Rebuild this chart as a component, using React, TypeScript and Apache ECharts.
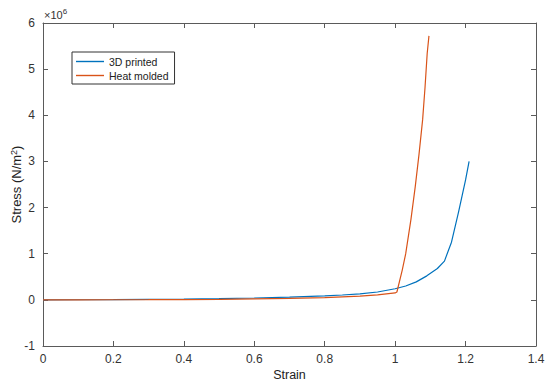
import React, { useEffect, useRef } from "react";
import * as echarts from "echarts";

// Stress values in units of 1e6 N/m^2
const strain3D = [0, 0.1, 0.2, 0.3, 0.4, 0.5, 0.6, 0.7, 0.8, 0.85, 0.9, 0.95, 1.0, 1.03, 1.06, 1.09, 1.12, 1.14, 1.16, 1.18, 1.2, 1.21];
const stress3D = [0, 0.002, 0.005, 0.01, 0.017, 0.027, 0.04, 0.058, 0.085, 0.105, 0.13, 0.17, 0.24, 0.3, 0.39, 0.52, 0.68, 0.84, 1.25, 1.9, 2.6, 3.0];

const strainHM = [0, 0.1, 0.2, 0.3, 0.4, 0.5, 0.6, 0.7, 0.8, 0.9, 0.95, 1.0, 1.005, 1.02, 1.03, 1.045, 1.057, 1.068, 1.078, 1.085, 1.091, 1.096];
const stressHM = [0, 0.001, 0.002, 0.004, 0.007, 0.012, 0.02, 0.03, 0.05, 0.08, 0.11, 0.15, 0.17, 0.64, 1.0, 1.75, 2.45, 3.17, 3.9, 4.62, 5.34, 5.72];

const seriesNames = ["3D printed", "Heat molded"];
const seriesColors = ["#0072BD", "#D95319"];
const xTicks = { min: 0, max: 1.4, interval: 0.2 };
const yTicks = { min: -1, max: 6, interval: 1 };

const FONT = "Liberation Sans, Arial, Helvetica, sans-serif";
const AXIS_COLOR = "#5a5a5a";
const LABEL_COLOR = "#333333";

export default function App() {
  const ref = useRef<HTMLDivElement>(null);
  useEffect(() => {
    if (!ref.current) return;
    const chart = echarts.init(ref.current, undefined, { renderer: "svg" });
    const axisCommon = {
      axisLine: { show: true, onZero: false, lineStyle: { color: AXIS_COLOR, width: 1 } },
      axisTick: { show: true, inside: true, length: 5, lineStyle: { color: AXIS_COLOR } },
      splitLine: { show: false },
    };
    const fmtX = (v: number) => String(parseFloat(v.toFixed(1)));
    chart.setOption({
      animation: false,
      backgroundColor: "#ffffff",
      textStyle: { fontFamily: FONT },
      grid: { left: 43, right: 14, top: 23, bottom: 42, containLabel: false, outerBoundsMode: "none" },
      legend: {
        orient: "vertical",
        left: 72,
        top: 52,
        padding: [4, 6, 3, 4],
        itemGap: 3,
        itemWidth: 28,
        itemHeight: 1.4,
        borderColor: "#333",
        borderWidth: 1,
        backgroundColor: "#fff",
        textStyle: { fontFamily: FONT, fontSize: 10.5, color: "#222", lineHeight: 11 },
        data: seriesNames.map((n) => ({ name: n, icon: "rect" })),
      },
      xAxis: [
        {
          type: "value",
          ...xTicks,
          position: "bottom",
          ...axisCommon,
          axisLabel: { color: LABEL_COLOR, fontSize: 12, fontFamily: FONT, margin: 7, formatter: fmtX },
          name: "Strain",
          nameLocation: "middle",
          nameGap: 22,
          nameMoveOverlap: false,
          nameTextStyle: { color: "#222", fontSize: 12.5, fontFamily: FONT },
        },
        {
          type: "value",
          ...xTicks,
          position: "top",
          ...axisCommon,
          axisLabel: { show: false },
        },
      ],
      yAxis: [
        {
          type: "value",
          ...yTicks,
          position: "left",
          ...axisCommon,
          axisLabel: { color: LABEL_COLOR, fontSize: 12, fontFamily: FONT, margin: 8 },
          name: "Stress (N/m{sup|2})",
          nameLocation: "middle",
          nameGap: 19,
          nameMoveOverlap: false,
          nameRotate: 90,
          nameTextStyle: {
            color: "#222",
            fontSize: 13,
            fontFamily: FONT,
            rich: { sup: { fontSize: 9, verticalAlign: "top", padding: [0, 0, 6, 0], color: "#222", fontFamily: FONT } },
          },
        },
        {
          type: "value",
          ...yTicks,
          position: "right",
          ...axisCommon,
          axisLabel: { show: false },
        },
      ],
      graphic: [
        {
          type: "text",
          left: 44,
          top: 7,
          style: {
            text: "×10{sup|6}",
            fontFamily: FONT,
            fontSize: 11,
            fill: "#333",
            rich: { sup: { fontSize: 8, verticalAlign: "top", padding: [0, 0, 7, 0], fill: "#333", fontFamily: FONT } },
          },
        },
      ],
      series: [0, 1].map((k) => ({
        name: seriesNames[k],
        type: "line",
        data: k === 0 ? strain3D.map((x, i) => [x, stress3D[i]]) : strainHM.map((x, i) => [x, stressHM[i]]),
        symbol: "none",
        smooth: false,
        lineStyle: { color: seriesColors[k], width: 1.2 },
        itemStyle: { color: seriesColors[k] },
      })),
    });
    return () => chart.dispose();
  }, []);
  return <div ref={ref} style={{ width: 550, height: 388, position: "absolute", left: 0, top: 0 }} />;
}
